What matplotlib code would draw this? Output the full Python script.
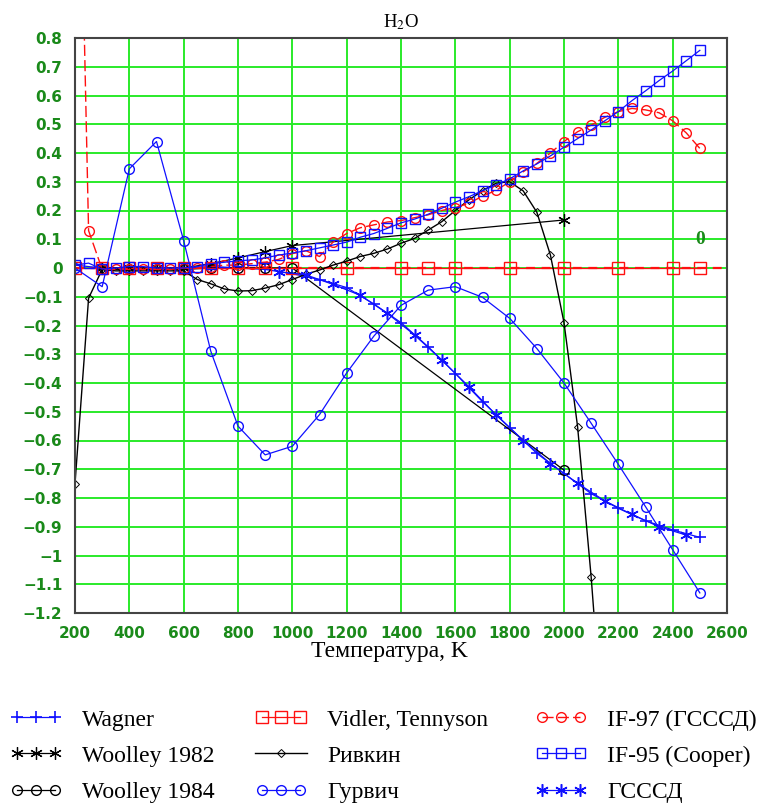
import numpy as np
import matplotlib
matplotlib.use('Agg')
import matplotlib.pyplot as plt
from matplotlib.legend_handler import HandlerLine2D

plt.rcParams['mathtext.fontset'] = 'stix'

# температурные сетки, K
t100 = np.arange(200, 2501, 100)
t50 = np.arange(200, 2501, 50)

# Wagner (каждые 100 K)
wagner = [0.01, 0.0, 0.0, 0.0, 0.0, 0.005, 0.0, -0.005, -0.02, -0.04, -0.068, -0.125,
          -0.19, -0.274, -0.367, -0.465, -0.555, -0.645, -0.715, -0.785, -0.836, -0.879,
          -0.911, -0.937]

# ГСССД
gsssd_t = np.arange(950, 2451, 100)
gsssd = [-0.013, -0.024, -0.057, -0.095, -0.158, -0.233, -0.32, -0.413, -0.511, -0.60,
         -0.68, -0.749, -0.81, -0.857, -0.90, -0.929]

# Vidler, Tennyson
vidler_t = [200, 300, 400, 500, 600, 700, 800, 900, 1000, 1200, 1400, 1500, 1600, 1800,
            2000, 2200, 2400, 2500]
vidler = [0.0, 0.0, 0.0, 0.0, 0.0, 0.0, 0.0, 0.0, 0.0, 0.0, 0.0, 0.0, 0.0, 0.0,
          0.0, 0.0, 0.0, 0.0]

# IF-97 (ГСССД), каждые 50 K
if97 = [2.3, 0.13, -0.005, -0.005, -0.005, -0.005, -0.005, -0.005,
        0.0, 0.0, 0.005, 0.01, 0.01, 0.015, 0.02, 0.03,
        0.05, 0.06, 0.04, 0.09, 0.12, 0.14, 0.15, 0.16, 0.165, 0.175,
        0.185, 0.20, 0.21, 0.225, 0.25, 0.27, 0.30, 0.335, 0.364, 0.40,
        0.44, 0.474, 0.497, 0.524, 0.544, 0.555, 0.55, 0.54, 0.512, 0.47,
        0.416]

# IF-95 (Cooper), каждые 50 K
if95 = [0.01, 0.017, -0.004, 0.0, 0.005, 0.005, 0.0, 0.0,
        0.0, 0.005, 0.015, 0.02, 0.025, 0.028, 0.035, 0.045,
        0.052, 0.06, 0.07, 0.08, 0.09, 0.107, 0.12, 0.138, 0.157, 0.17,
        0.187, 0.208, 0.229, 0.248, 0.269, 0.289, 0.31, 0.338, 0.362, 0.39,
        0.42, 0.45, 0.48, 0.512, 0.544, 0.582, 0.616, 0.652, 0.685, 0.721,
        0.757]

# Гурвич (каждые 100 K)
gurvich = [0.0, -0.065, 0.345, 0.44, 0.095, -0.29, -0.55, -0.65, -0.62, -0.51, -0.365,
           -0.237, -0.13, -0.077, -0.065, -0.102, -0.175, -0.28, -0.40, -0.54, -0.683,
           -0.83, -0.98, -1.13]

# Ривкин
rivkin_t = np.arange(200, 2151, 50)
rivkin = [-0.75, -0.105, -0.005, -0.01, -0.01, -0.01, -0.01, -0.01,
          -0.01, -0.04, -0.055, -0.073, -0.08, -0.079, -0.07, -0.058,
          -0.04, -0.022, -0.007, 0.01, 0.024, 0.04, 0.051, 0.066, 0.086, 0.103,
          0.132, 0.161, 0.2, 0.237, 0.269, 0.295, 0.30, 0.268, 0.194, 0.045,
          -0.19, -0.552, -1.075, -1.7]

# Woolley 1982 / 1984
w82_t = [300, 400, 500, 600, 700, 800, 900, 1000, 2000]
w82 = [0.0, 0.0, 0.0, 0.0, 0.015, 0.035, 0.057, 0.078, 0.167]
w84_t = [300, 400, 500, 600, 700, 800, 900, 1000, 2000]
w84 = [-0.005, -0.005, -0.005, -0.005, 0.0, 0.0, 0.0, 0.0, -0.703]

xticks = np.arange(200, 2601, 200)
yticks = np.round(np.arange(-1.2, 0.81, 0.1), 1)
ytick_labels = ['\u22121.2', '\u22121.1', '\u22121', '\u22120.9', '\u22120.8', '\u22120.7',
                '\u22120.6', '\u22120.5', '\u22120.4', '\u22120.3', '\u22120.2', '\u22120.1',
                '0', '0.1', '0.2', '0.3', '0.4', '0.5', '0.6', '0.7', '0.8']

green = '#1a8a1a'
blue = '#1010ff'
red = '#ff1010'

fig = plt.figure(figsize=(7.64, 8.08), dpi=100)
ax = fig.add_axes([75 / 764, 1 - 613 / 808, (727 - 75) / 764, (613 - 38) / 808])

ax.axhline(0, color=red, ls=(0, (4, 3)), lw=1.6, zorder=2)

mk = dict(mfc='none', mew=1.0)
h_wag, = ax.plot(t100, wagner, color=blue, lw=0.9, marker='+', ms=8, mew=1.2, label='Wagner')
h_w82, = ax.plot(w82_t, w82, color='black', lw=0.9, marker=(6, 2, 0), ms=9, mew=0.9,
                 label='Woolley 1982')
h_w84, = ax.plot(w84_t, w84, color='black', lw=0.9, marker='o', ms=7, label='Woolley 1984', **mk)
h_vid, = ax.plot(vidler_t, vidler, color=red, lw=0.9, marker='s', ms=8.5,
                 label='Vidler, Tennyson', **mk)
h_riv, = ax.plot(rivkin_t, rivkin, color='black', lw=1.0, marker='D', ms=4.5, mew=0.7,
                 mfc='none', label='Ривкин')
h_gur, = ax.plot(t100, gurvich, color=blue, lw=0.9, marker='o', ms=7, label='Гурвич', **mk)
h_97, = ax.plot(t50, if97, color=red, lw=1.0, ls=(0, (8, 3)), marker='o', ms=7,
                label='IF-97 (ГСССД)', **mk)
h_95, = ax.plot(t50, if95, color=blue, lw=0.9, marker='s', ms=7.5, label='IF-95 (Cooper)', **mk)
h_gs, = ax.plot(gsssd_t, gsssd, color=blue, lw=0.9, marker=(6, 2, 0), ms=9, mew=1.1,
                label='ГСССД')

ax.text(2500, 0.1, '0', color=green, fontsize=14, fontweight='bold',
        family='Liberation Serif', ha='center', va='center')

ax.set_xlim(200, 2600)
ax.set_ylim(-1.2, 0.8)
ax.set_xticks(xticks)
ax.set_yticks(yticks)
ax.set_yticklabels(ytick_labels)
ax.grid(True, color='#2aea2a', lw=1.4)
ax.set_axisbelow(True)
ax.tick_params(length=0, labelcolor=green, labelsize=11)
ax.tick_params(axis='y', pad=9)
ax.tick_params(axis='x', pad=9)
for lab in ax.get_xticklabels() + ax.get_yticklabels():
    lab.set_fontweight('bold')
    lab.set_family('DejaVu Sans')
for sp in ax.spines.values():
    sp.set_color('#444444')
    sp.set_linewidth(1.5)

ax.set_title('H$_2$O', family='Liberation Serif', fontsize=13.5, pad=8)
ax.set_xlabel('Температура, K', family='Liberation Serif', fontsize=17)
ax.xaxis.set_label_coords((389 - 75) / 652, -(652 - 613) / 575)
ax.xaxis.label.set_va('center')

# легенда в три колонки
cols = [([h_wag, h_w82, h_w84], 10), ([h_vid, h_riv, h_gur], 255), ([h_97, h_95, h_gs], 535)]
for handles, x0 in cols:
    fig.legend(handles=handles, loc='upper left', bbox_to_anchor=(x0 / 764, 1 - 709 / 808),
               frameon=False, numpoints=3, handlelength=2.2, handletextpad=0.85,
               labelspacing=0.62, borderpad=0, borderaxespad=0,
               prop={'family': 'Liberation Serif', 'size': 17},
               handler_map={h_riv: HandlerLine2D(numpoints=1)})

fig.savefig('out.png', dpi=100)
